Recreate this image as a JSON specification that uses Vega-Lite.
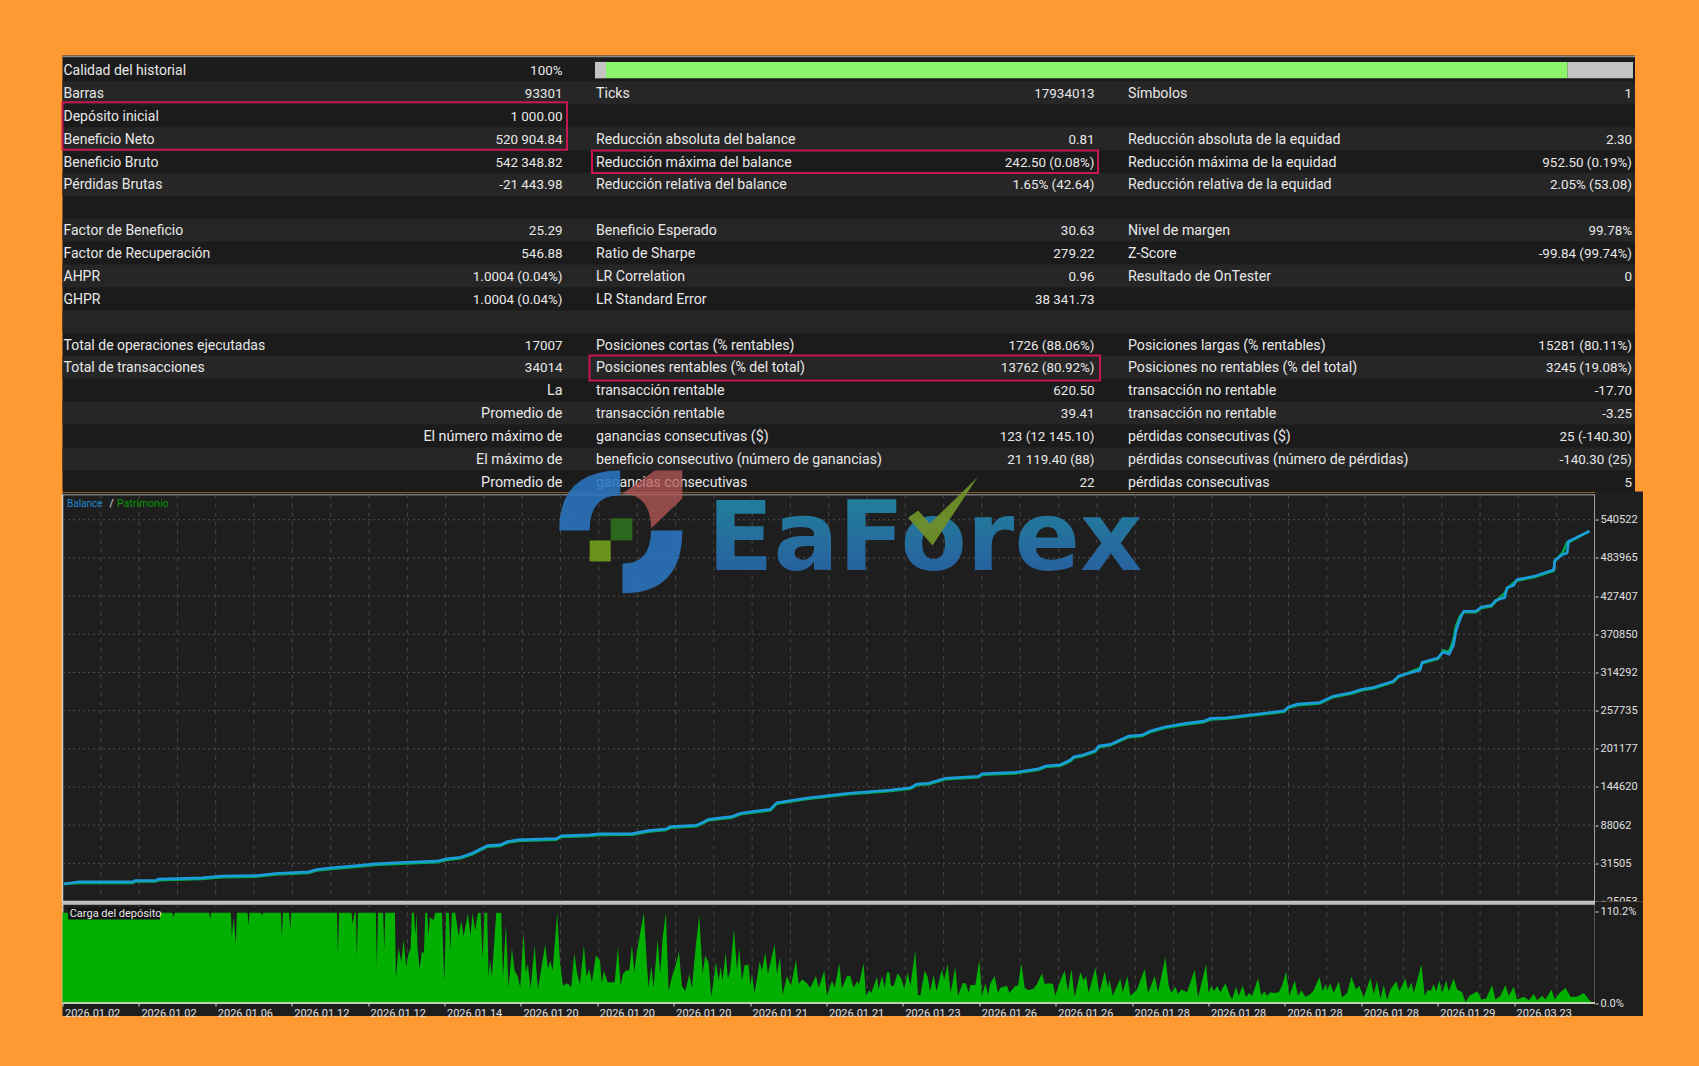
{
"$schema":"https://vega.github.io/schema/vega-lite/v6.json",
"background":"#FF9A33",
"padding":{"left":57.5,"top":55.5,"right":55,"bottom":50.5},
"bounds":"flush",
"spacing":2,
"config":{"text":{"font":"Roboto"},"axis":{"labelFont":"Roboto"}},
"datasets":{
"table":[
{"row":0,"slot":"a","text":"Calidad del historial"},{"row":0,"slot":"A","text":"100%"},
{"row":1,"slot":"a","text":"Barras"},{"row":1,"slot":"A","text":"93301"},{"row":1,"slot":"b","text":"Ticks"},{"row":1,"slot":"B","text":"17934013"},{"row":1,"slot":"c","text":"Símbolos"},{"row":1,"slot":"C","text":"1"},
{"row":2,"slot":"a","text":"Depósito inicial"},{"row":2,"slot":"A","text":"1 000.00"},
{"row":3,"slot":"a","text":"Beneficio Neto"},{"row":3,"slot":"A","text":"520 904.84"},{"row":3,"slot":"b","text":"Reducción absoluta del balance"},{"row":3,"slot":"B","text":"0.81"},{"row":3,"slot":"c","text":"Reducción absoluta de la equidad"},{"row":3,"slot":"C","text":"2.30"},
{"row":4,"slot":"a","text":"Beneficio Bruto"},{"row":4,"slot":"A","text":"542 348.82"},{"row":4,"slot":"b","text":"Reducción máxima del balance"},{"row":4,"slot":"B","text":"242.50 (0.08%)"},{"row":4,"slot":"c","text":"Reducción máxima de la equidad"},{"row":4,"slot":"C","text":"952.50 (0.19%)"},
{"row":5,"slot":"a","text":"Pérdidas Brutas"},{"row":5,"slot":"A","text":"-21 443.98"},{"row":5,"slot":"b","text":"Reducción relativa del balance"},{"row":5,"slot":"B","text":"1.65% (42.64)"},{"row":5,"slot":"c","text":"Reducción relativa de la equidad"},{"row":5,"slot":"C","text":"2.05% (53.08)"},
{"row":7,"slot":"a","text":"Factor de Beneficio"},{"row":7,"slot":"A","text":"25.29"},{"row":7,"slot":"b","text":"Beneficio Esperado"},{"row":7,"slot":"B","text":"30.63"},{"row":7,"slot":"c","text":"Nivel de margen"},{"row":7,"slot":"C","text":"99.78%"},
{"row":8,"slot":"a","text":"Factor de Recuperación"},{"row":8,"slot":"A","text":"546.88"},{"row":8,"slot":"b","text":"Ratio de Sharpe"},{"row":8,"slot":"B","text":"279.22"},{"row":8,"slot":"c","text":"Z-Score"},{"row":8,"slot":"C","text":"-99.84 (99.74%)"},
{"row":9,"slot":"a","text":"AHPR"},{"row":9,"slot":"A","text":"1.0004 (0.04%)"},{"row":9,"slot":"b","text":"LR Correlation"},{"row":9,"slot":"B","text":"0.96"},{"row":9,"slot":"c","text":"Resultado de OnTester"},{"row":9,"slot":"C","text":"0"},
{"row":10,"slot":"a","text":"GHPR"},{"row":10,"slot":"A","text":"1.0004 (0.04%)"},{"row":10,"slot":"b","text":"LR Standard Error"},{"row":10,"slot":"B","text":"38 341.73"},
{"row":12,"slot":"a","text":"Total de operaciones ejecutadas"},{"row":12,"slot":"A","text":"17007"},{"row":12,"slot":"b","text":"Posiciones cortas (% rentables)"},{"row":12,"slot":"B","text":"1726 (88.06%)"},{"row":12,"slot":"c","text":"Posiciones largas (% rentables)"},{"row":12,"slot":"C","text":"15281 (80.11%)"},
{"row":13,"slot":"a","text":"Total de transacciones"},{"row":13,"slot":"A","text":"34014"},{"row":13,"slot":"b","text":"Posiciones rentables (% del total)"},{"row":13,"slot":"B","text":"13762 (80.92%)"},{"row":13,"slot":"c","text":"Posiciones no rentables (% del total)"},{"row":13,"slot":"C","text":"3245 (19.08%)"},
{"row":14,"slot":"A","text":"La"},{"row":14,"slot":"b","text":"transacción rentable"},{"row":14,"slot":"B","text":"620.50"},{"row":14,"slot":"c","text":"transacción no rentable"},{"row":14,"slot":"C","text":"-17.70"},
{"row":15,"slot":"A","text":"Promedio de"},{"row":15,"slot":"b","text":"transacción rentable"},{"row":15,"slot":"B","text":"39.41"},{"row":15,"slot":"c","text":"transacción no rentable"},{"row":15,"slot":"C","text":"-3.25"},
{"row":16,"slot":"A","text":"El número máximo de"},{"row":16,"slot":"b","text":"ganancias consecutivas ($)"},{"row":16,"slot":"B","text":"123 (12 145.10)"},{"row":16,"slot":"c","text":"pérdidas consecutivas ($)"},{"row":16,"slot":"C","text":"25 (-140.30)"},
{"row":17,"slot":"A","text":"El máximo de"},{"row":17,"slot":"b","text":"beneficio consecutivo (número de ganancias)"},{"row":17,"slot":"B","text":"21 119.40 (88)"},{"row":17,"slot":"c","text":"pérdidas consecutivas (número de pérdidas)"},{"row":17,"slot":"C","text":"-140.30 (25)"},
{"row":18,"slot":"A","text":"Promedio de"},{"row":18,"slot":"b","text":"ganancias consecutivas"},{"row":18,"slot":"B","text":"22"},{"row":18,"slot":"c","text":"pérdidas consecutivas"},{"row":18,"slot":"C","text":"5"}
],
"stripes":[{"from":0.5,"to":1.5},{"from":2.5,"to":3.5},{"from":4.5,"to":5.5},{"from":6.5,"to":7.5},{"from":8.5,"to":9.5},{"from":10.5,"to":11.5},{"from":12.5,"to":13.5},{"from":14.5,"to":15.5},{"from":16.5,"to":17.5}],
"gridX":[{"t":850},{"t":1700},{"t":2550},{"t":3400},{"t":4250},{"t":5100},{"t":5950},{"t":6800},{"t":7650},{"t":8500},{"t":9350},{"t":10200},{"t":11050},{"t":11900},{"t":12750},{"t":13600},{"t":14450},{"t":15300},{"t":16150},{"t":17000},{"t":17850},{"t":18700},{"t":19550},{"t":20400},{"t":21250},{"t":22100},{"t":22950},{"t":23800},{"t":24650},{"t":25500},{"t":26350},{"t":27200},{"t":28050},{"t":28900},{"t":29750},{"t":30600},{"t":31450},{"t":32300},{"t":33150}],
"gridY":[{"v":31505},{"v":88062},{"v":144620},{"v":201177},{"v":257735},{"v":314292},{"v":370850},{"v":427407},{"v":483965},{"v":540522}],
"curve":[
{"t":29,"balance":1000,"equity":1000},{"t":368,"balance":4089,"equity":2600},{"t":1558,"balance":4089,"equity":2600},{"t":1613,"balance":6012,"equity":4500},{"t":2064,"balance":6012,"equity":4500},{"t":2124,"balance":8082,"equity":6600},{"t":3084,"balance":10005,"equity":8500},{"t":3539,"balance":12519,"equity":11000},{"t":4327,"balance":13407,"equity":11900},{"t":4726,"balance":16365,"equity":14900},{"t":5459,"balance":18879,"equity":17400},{"t":5636,"balance":22281,"equity":20800},{"t":6036,"balance":25239,"equity":23700},{"t":6479,"balance":27753,"equity":26300},{"t":6934,"balance":30711,"equity":29200},{"t":7500,"balance":32634,"equity":31100},{"t":8299,"balance":34704,"equity":33200},{"t":8521,"balance":38106,"equity":36600},{"t":8832,"balance":40620,"equity":39100},{"t":9087,"balance":46536,"equity":45000},{"t":9431,"balance":57777,"equity":56300},{"t":9708,"balance":58812,"equity":57300},{"t":9875,"balance":63693,"equity":62200},{"t":10105,"balance":66207,"equity":64700},{"t":10953,"balance":68130,"equity":66600},{"t":11068,"balance":72123,"equity":70600},{"t":11690,"balance":73602,"equity":72100},{"t":11916,"balance":75081,"equity":73600},{"t":12648,"balance":75525,"equity":74000},{"t":12992,"balance":79962,"equity":78500},{"t":13387,"balance":82476,"equity":81000},{"t":13500,"balance":85878,"equity":84400},{"t":14068,"balance":87948,"equity":86400},{"t":14237,"balance":93273,"equity":91800},{"t":14335,"balance":96822,"equity":95300},{"t":14845,"balance":100668,"equity":99200},{"t":15038,"balance":105696,"equity":104200},{"t":15704,"balance":111612,"equity":110100},{"t":15850,"balance":121374,"equity":119900},{"t":16480,"balance":127881,"equity":126400},{"t":17441,"balance":135276,"equity":133800},{"t":17885,"balance":137643,"equity":136100},{"t":18367,"balance":140157,"equity":138700},{"t":18811,"balance":143559,"equity":142000},{"t":18957,"balance":149031,"equity":147500},{"t":19217,"balance":150066,"equity":148600},{"t":19587,"balance":157461,"equity":156000},{"t":20326,"balance":160419,"equity":158900},{"t":20400,"balance":164265,"equity":162800},{"t":21141,"balance":166335,"equity":164800},{"t":21658,"balance":171660,"equity":170200},{"t":21807,"balance":175653,"equity":174100},{"t":22140,"balance":177576,"equity":176100},{"t":22360,"balance":184527,"equity":183000},{"t":22434,"balance":189408,"equity":187900},{"t":22618,"balance":191478,"equity":190000},{"t":22916,"balance":198282,"equity":196800},{"t":22989,"balance":205233,"equity":203700},{"t":23248,"balance":207747,"equity":206300},{"t":23654,"balance":220023,"equity":218500},{"t":23950,"balance":221502,"equity":220000},{"t":24134,"balance":227418,"equity":225900},{"t":24476,"balance":233778,"equity":232300},{"t":24920,"balance":238806,"equity":237300},{"t":25319,"balance":242208,"equity":240700},{"t":25470,"balance":246201,"equity":244700},{"t":25816,"balance":247088,"equity":245600},{"t":26606,"balance":253596,"equity":252100},{"t":27101,"balance":257442,"equity":255900},{"t":27201,"balance":263358,"equity":261900},{"t":27398,"balance":267351,"equity":265800},{"t":27893,"balance":269865,"equity":268400},{"t":28190,"balance":279183,"equity":277700},{"t":28585,"balance":284064,"equity":282600},{"t":28834,"balance":289536,"equity":288000},{"t":29080,"balance":292050,"equity":290500},{"t":29526,"balance":301368,"equity":299900},{"t":29646,"balance":309207,"equity":307700},{"t":30118,"balance":317637,"equity":321000},{"t":30167,"balance":329469,"equity":328000},{"t":30516,"balance":335829,"equity":334300},{"t":30633,"balance":344703,"equity":347000},{"t":30762,"balance":341301,"equity":345000},{"t":30862,"balance":354612,"equity":363000},{"t":30911,"balance":374283,"equity":382000},{"t":31008,"balance":394101,"equity":398000},{"t":31088,"balance":404898,"equity":403400},{"t":31354,"balance":404898,"equity":403400},{"t":31483,"balance":411258,"equity":409800},{"t":31700,"balance":413772,"equity":412300},{"t":31798,"balance":421167,"equity":419700},{"t":31998,"balance":425160,"equity":432000},{"t":32049,"balance":439950,"equity":438400},{"t":32197,"balance":443352,"equity":447000},{"t":32264,"balance":451782,"equity":450300},{"t":32641,"balance":456663,"equity":455200},{"t":33085,"balance":466572,"equity":465100},{"t":33107,"balance":480327,"equity":478800},{"t":33285,"balance":489201,"equity":492000},{"t":33382,"balance":491124,"equity":507000},{"t":33413,"balance":508428,"equity":506900},{"t":33877,"balance":523600,"equity":523600}
],
"load":[
{"t":0,"v":100},{"t":2440,"v":100},{"t":2463,"v":95},{"t":2490,"v":100},{"t":3255,"v":100},{"t":3277,"v":93},{"t":3300,"v":100},{"t":3735,"v":100},{"t":3757,"v":74},{"t":3800,"v":95},{"t":3846,"v":65},{"t":3870,"v":100},{"t":4105,"v":100},{"t":4127,"v":86},{"t":4150,"v":100},{"t":4400,"v":100},{"t":4423,"v":97},{"t":4445,"v":100},{"t":4845,"v":100},{"t":4867,"v":73},{"t":4890,"v":100},{"t":5030,"v":100},{"t":5052,"v":81},{"t":5075,"v":100},{"t":6088,"v":100},{"t":6110,"v":55},{"t":6135,"v":100},{"t":6412,"v":100},{"t":6435,"v":87},{"t":6480,"v":100},{"t":6510,"v":100},{"t":6531,"v":51},{"t":6555,"v":100},{"t":6952,"v":100},{"t":6975,"v":40},{"t":7000,"v":100},{"t":7115,"v":100},{"t":7138,"v":59},{"t":7160,"v":100},{"t":7375,"v":100},{"t":7397,"v":27},{"t":7456,"v":62},{"t":7515,"v":45},{"t":7567,"v":70},{"t":7626,"v":40},{"t":7678,"v":55},{"t":7722,"v":60},{"t":7752,"v":100},{"t":7796,"v":100},{"t":7826,"v":76},{"t":7855,"v":100},{"t":7878,"v":60},{"t":7922,"v":38},{"t":7974,"v":57},{"t":8018,"v":55},{"t":8048,"v":100},{"t":8092,"v":100},{"t":8122,"v":74},{"t":8151,"v":95},{"t":8232,"v":92},{"t":8269,"v":100},{"t":8417,"v":100},{"t":8469,"v":24},{"t":8513,"v":100},{"t":8572,"v":100},{"t":8602,"v":57},{"t":8639,"v":100},{"t":8713,"v":100},{"t":8750,"v":88},
{"t":8787,"v":74},{"t":8846,"v":91},{"t":8898,"v":74},{"t":8994,"v":99},{"t":9053,"v":75},{"t":9098,"v":100},{"t":9157,"v":80},{"t":9216,"v":100},{"t":9275,"v":100},{"t":9320,"v":49},{"t":9364,"v":100},{"t":9423,"v":100},{"t":9453,"v":29},{"t":9490,"v":47},{"t":9527,"v":30},{"t":9623,"v":100},{"t":9734,"v":100},{"t":9771,"v":28},{"t":9837,"v":87},{"t":9897,"v":17},{"t":9971,"v":61},{"t":10030,"v":36},{"t":10104,"v":29},{"t":10155,"v":17},{"t":10229,"v":78},{"t":10281,"v":34},{"t":10325,"v":43},{"t":10385,"v":16},{"t":10474,"v":64},{"t":10548,"v":15},{"t":10621,"v":38},{"t":10710,"v":65},{"t":10769,"v":38},{"t":10821,"v":47},{"t":10873,"v":36},{"t":10976,"v":100},{"t":11036,"v":46},{"t":11102,"v":19},{"t":11191,"v":22},{"t":11287,"v":18},{"t":11354,"v":55},{"t":11420,"v":32},{"t":11479,"v":21},{"t":11568,"v":64},{"t":11627,"v":29},{"t":11687,"v":38},{"t":11746,"v":23},{"t":11835,"v":53},{"t":11923,"v":47},{"t":11968,"v":22},{"t":12012,"v":36},{"t":12094,"v":23},{"t":12249,"v":23},{"t":12323,"v":62},{"t":12382,"v":19},{"t":12434,"v":32},{"t":12500,"v":36},{"t":12574,"v":36},{"t":12634,"v":65},{"t":12685,"v":34},{"t":12745,"v":57},{"t":12818,"v":78},{"t":12899,"v":100},{"t":12966,"v":42},{"t":13003,"v":17},{"t":13063,"v":41},{"t":13114,"v":17},{"t":13203,"v":71},{"t":13262,"v":32},{"t":13314,"v":72},{"t":13388,"v":100},{"t":13447,"v":13},{"t":13521,"v":29},{"t":13595,"v":40},{"t":13677,"v":57},{"t":13743,"v":19},{"t":13817,"v":13},{"t":13906,"v":32},{"t":13965,"v":17},{"t":14054,"v":65},{"t":14128,"v":97},{"t":14202,"v":32},{"t":14261,"v":53},{"t":14335,"v":44},{"t":14394,"v":7},{"t":14498,"v":45},{"t":14557,"v":25},{"t":14601,"v":40},{"t":14645,"v":25},{"t":14712,"v":56},{"t":14764,"v":27},{"t":14816,"v":36},{"t":14897,"v":82},{"t":14964,"v":36},{"t":15015,"v":61},{"t":15075,"v":25},{"t":15134,"v":42},{"t":15222,"v":42},{"t":15259,"v":19},{"t":15296,"v":32},{"t":15355,"v":11},{"t":15467,"v":46},{"t":15518,"v":36},{"t":15592,"v":56},{"t":15651,"v":32},{"t":15799,"v":65},{"t":15851,"v":32},{"t":15918,"v":51},{"t":15977,"v":9},{"t":16073,"v":30},{"t":16162,"v":19},{"t":16273,"v":48},{"t":16332,"v":21},{"t":16406,"v":26},{"t":16495,"v":23},{"t":16591,"v":17},{"t":16717,"v":30},{"t":16776,"v":17},{"t":16901,"v":36},{"t":16961,"v":8},{"t":17071,"v":25},{"t":17131,"v":17},{"t":17234,"v":44},{"t":17293,"v":16},{"t":17404,"v":30},{"t":17478,"v":30},{"t":17552,"v":17},{"t":17641,"v":25},
{"t":17663,"v":19},{"t":17774,"v":44},{"t":17826,"v":8},{"t":17900,"v":14},{"t":17944,"v":11},{"t":18070,"v":29},{"t":18107,"v":15},{"t":18181,"v":30},{"t":18240,"v":17},{"t":18292,"v":34},{"t":18344,"v":34},{"t":18381,"v":19},{"t":18440,"v":19},{"t":18528,"v":33},{"t":18610,"v":27},{"t":18676,"v":16},{"t":18750,"v":34},{"t":18810,"v":19},{"t":18920,"v":58},{"t":18980,"v":9},{"t":19031,"v":8},{"t":19128,"v":36},{"t":19194,"v":29},{"t":19246,"v":13},{"t":19327,"v":31},{"t":19394,"v":13},{"t":19512,"v":38},{"t":19557,"v":25},{"t":19638,"v":43},{"t":19705,"v":11},{"t":19808,"v":40},{"t":19867,"v":8},{"t":19971,"v":22},{"t":20045,"v":22},{"t":20104,"v":11},{"t":20141,"v":20},{"t":20252,"v":20},{"t":20341,"v":48},{"t":20400,"v":8},{"t":20474,"v":22},{"t":20533,"v":9},{"t":20585,"v":22},{"t":20681,"v":30},{"t":20755,"v":11},{"t":20807,"v":17},{"t":20955,"v":19},{"t":21006,"v":11},{"t":21140,"v":19},{"t":21199,"v":19},{"t":21273,"v":44},{"t":21347,"v":17},{"t":21436,"v":14},{"t":21546,"v":16},{"t":21620,"v":21},{"t":21731,"v":33},{"t":21791,"v":21},{"t":21879,"v":22},{"t":21975,"v":21},{"t":22027,"v":8},{"t":22138,"v":25},{"t":22234,"v":36},{"t":22308,"v":13},{"t":22382,"v":38},{"t":22456,"v":7},{"t":22582,"v":34},{"t":22656,"v":25},{"t":22708,"v":30},{"t":22767,"v":11},{"t":22915,"v":39},{"t":23004,"v":11},{"t":23122,"v":35},{"t":23196,"v":17},{"t":23226,"v":26},{"t":23300,"v":8},{"t":23470,"v":27},{"t":23522,"v":12},{"t":23625,"v":30},{"t":23692,"v":8},{"t":23840,"v":15},{"t":24010,"v":38},{"t":24084,"v":11},{"t":24232,"v":30},{"t":24306,"v":12},{"t":24468,"v":51},{"t":24542,"v":19},{"t":24602,"v":11},{"t":24690,"v":18},{"t":24749,"v":10},{"t":24823,"v":15},{"t":24949,"v":12},{"t":25119,"v":37},{"t":25193,"v":6},
{"t":25371,"v":43},{"t":25430,"v":11},{"t":25489,"v":19},{"t":25548,"v":13},{"t":25615,"v":19},{"t":25689,"v":12},{"t":25800,"v":22},{"t":25889,"v":10},{"t":25948,"v":4},{"t":26036,"v":18},{"t":26096,"v":8},{"t":26184,"v":19},{"t":26258,"v":6},{"t":26318,"v":11},{"t":26392,"v":8},{"t":26525,"v":27},{"t":26599,"v":8},{"t":26665,"v":13},{"t":26724,"v":8},{"t":26798,"v":12},{"t":26872,"v":11},{"t":26983,"v":12},{"t":27057,"v":19},{"t":27146,"v":35},{"t":27220,"v":8},{"t":27338,"v":25},{"t":27412,"v":8},{"t":27486,"v":14},{"t":27575,"v":7},{"t":27686,"v":10},{"t":27760,"v":14},{"t":27886,"v":29},{"t":27960,"v":13},{"t":28019,"v":21},{"t":28063,"v":14},{"t":28122,"v":22},{"t":28204,"v":11},{"t":28315,"v":24},{"t":28389,"v":6},{"t":28500,"v":11},{"t":28596,"v":29},{"t":28699,"v":15},{"t":28773,"v":19},{"t":28870,"v":6},{"t":29017,"v":28},{"t":29092,"v":10},{"t":29165,"v":25},{"t":29239,"v":5},{"t":29313,"v":20},{"t":29387,"v":4},{"t":29461,"v":15},{"t":29587,"v":24},{"t":29661,"v":13},{"t":29794,"v":27},{"t":29853,"v":15},{"t":29927,"v":23},{"t":29979,"v":11},{"t":30149,"v":43},{"t":30223,"v":8},{"t":30297,"v":15},{"t":30349,"v":13},{"t":30423,"v":21},{"t":30475,"v":13},{"t":30549,"v":25},{"t":30608,"v":11},{"t":30697,"v":25},{"t":30756,"v":13},{"t":30867,"v":27},{"t":30941,"v":15},{"t":31052,"v":12},{"t":31126,"v":1},{"t":31215,"v":8},{"t":31392,"v":13},{"t":31481,"v":4},{"t":31584,"v":5},{"t":31717,"v":20},{"t":31791,"v":4},{"t":31902,"v":8},{"t":32013,"v":20},{"t":32087,"v":8},{"t":32198,"v":18},{"t":32272,"v":4},{"t":32420,"v":7},{"t":32531,"v":3},{"t":32642,"v":10},{"t":32716,"v":3},{"t":32827,"v":8},{"t":32901,"v":4},{"t":33034,"v":15},{"t":33108,"v":4},{"t":33197,"v":10},{"t":33345,"v":17},{"t":33456,"v":7},{"t":33604,"v":7},{"t":33752,"v":11},{"t":33863,"v":4},{"t":33922,"v":1}
]
},
"vconcat":[
{
"width":1572.5,"height":436.5,
"view":{"fill":"#1b1b1b","stroke":null},
"resolve":{"scale":{"x":"independent"}},
"layer":[
{"data":{"name":"stripes"},"mark":{"type":"rect","fill":"#262626"},"encoding":{"y":{"field":"from","type":"quantitative","scale":{"domain":[-0.64,18.45],"reverse":true,"nice":false,"zero":false},"axis":null},"y2":{"field":"to"}}},
{"data":{"values":[{"rule":"top"}]},"mark":{"type":"rule","stroke":"#8a8a8a","strokeWidth":1.5},"encoding":{"y":{"datum":-0.6,"scale":{"domain":[-0.64,18.45],"reverse":true,"nice":false,"zero":false},"axis":null}}},
{"data":{"values":[{"seg":"a","from":0,"to":1.06},{"seg":"b","from":1.06,"to":93.7},{"seg":"a","from":93.7,"to":100}]},"mark":{"type":"rect"},"encoding":{"x":{"field":"from","type":"quantitative","scale":{"domain":[0,100],"range":[532.5,1570.5],"nice":false,"zero":false},"axis":null},"x2":{"field":"to"},"y":{"datum":-0.36,"scale":{"domain":[-0.64,18.45],"reverse":true,"nice":false,"zero":false},"axis":null},"y2":{"datum":0.36},"color":{"field":"seg","type":"nominal","scale":{"domain":["a","b"],"range":["#c4c4c4","#8cf56c"]},"legend":null}}},
{"data":{"name":"table"},"transform":[{"filter":"datum.slot=='a'"}],"mark":{"type":"text","align":"left","baseline":"middle","dy":1,"fontSize":14,"fill":"#e8e8e8"},"encoding":{"x":{"field":"slot","type":"nominal","scale":{"type":"point","domain":["a","A"],"range":[1,500],"padding":0},"axis":null},"y":{"field":"row","type":"quantitative","scale":{"domain":[-0.64,18.45],"reverse":true,"nice":false,"zero":false},"axis":null},"text":{"field":"text"}}},
{"data":{"name":"table"},"transform":[{"filter":"datum.slot=='A'"}],"mark":{"type":"text","align":"right","baseline":"middle","dy":1,"fill":"#e8e8e8"},"encoding":{"x":{"field":"slot","type":"nominal","scale":{"type":"point","domain":["a","A"],"range":[1,500],"padding":0},"axis":null},"y":{"field":"row","type":"quantitative","scale":{"domain":[-0.64,18.45],"reverse":true,"nice":false,"zero":false},"axis":null},"text":{"field":"text"},"size":{"condition":{"test":"datum.row>=14","value":14.4},"value":13.4}}},
{"data":{"name":"table"},"transform":[{"filter":"datum.slot=='b'"}],"mark":{"type":"text","align":"left","baseline":"middle","dy":1,"fontSize":14.15,"fill":"#e8e8e8"},"encoding":{"x":{"field":"slot","type":"nominal","scale":{"type":"point","domain":["b","B"],"range":[533.5,1032],"padding":0},"axis":null},"y":{"field":"row","type":"quantitative","scale":{"domain":[-0.64,18.45],"reverse":true,"nice":false,"zero":false},"axis":null},"text":{"field":"text"}}},
{"data":{"name":"table"},"transform":[{"filter":"datum.slot=='B'"}],"mark":{"type":"text","align":"right","baseline":"middle","dy":1,"fontSize":13.4,"fill":"#e8e8e8"},"encoding":{"x":{"field":"slot","type":"nominal","scale":{"type":"point","domain":["b","B"],"range":[533.5,1032],"padding":0},"axis":null},"y":{"field":"row","type":"quantitative","scale":{"domain":[-0.64,18.45],"reverse":true,"nice":false,"zero":false},"axis":null},"text":{"field":"text"}}},
{"data":{"name":"table"},"transform":[{"filter":"datum.slot=='c'"}],"mark":{"type":"text","align":"left","baseline":"middle","dy":1,"fontSize":14.2,"fill":"#e8e8e8"},"encoding":{"x":{"field":"slot","type":"nominal","scale":{"type":"point","domain":["c","C"],"range":[1065.5,1569.5],"padding":0},"axis":null},"y":{"field":"row","type":"quantitative","scale":{"domain":[-0.64,18.45],"reverse":true,"nice":false,"zero":false},"axis":null},"text":{"field":"text"}}},
{"data":{"name":"table"},"transform":[{"filter":"datum.slot=='C'"}],"mark":{"type":"text","align":"right","baseline":"middle","dy":1,"fontSize":13.4,"fill":"#e8e8e8"},"encoding":{"x":{"field":"slot","type":"nominal","scale":{"type":"point","domain":["c","C"],"range":[1065.5,1569.5],"padding":0},"axis":null},"y":{"field":"row","type":"quantitative","scale":{"domain":[-0.64,18.45],"reverse":true,"nice":false,"zero":false},"axis":null},"text":{"field":"text"}}},
{"data":{"values":[{"from":1.4,"to":3.48}]},"mark":{"type":"rect","fillOpacity":0,"stroke":"#c8174f","strokeWidth":2},"encoding":{"x":{"datum":0,"scale":{"domain":[0,1],"range":[0,504.5],"nice":false,"zero":false},"axis":null},"x2":{"datum":1},"y":{"field":"from","type":"quantitative","scale":{"domain":[-0.64,18.45],"reverse":true,"nice":false,"zero":false},"axis":null},"y2":{"field":"to"}}},
{"data":{"values":[{"from":3.52,"to":4.5}]},"mark":{"type":"rect","fillOpacity":0,"stroke":"#c8174f","strokeWidth":2},"encoding":{"x":{"datum":0,"scale":{"domain":[0,1],"range":[529.5,1035.5],"nice":false,"zero":false},"axis":null},"x2":{"datum":1},"y":{"field":"from","type":"quantitative","scale":{"domain":[-0.64,18.45],"reverse":true,"nice":false,"zero":false},"axis":null},"y2":{"field":"to"}}},
{"data":{"values":[{"from":12.48,"to":13.57}]},"mark":{"type":"rect","fillOpacity":0,"stroke":"#c8174f","strokeWidth":2},"encoding":{"x":{"datum":0,"scale":{"domain":[0,1],"range":[527,1037.5],"nice":false,"zero":false},"axis":null},"x2":{"datum":1},"y":{"field":"from","type":"quantitative","scale":{"domain":[-0.64,18.45],"reverse":true,"nice":false,"zero":false},"axis":null},"y2":{"field":"to"}}}
]
},
{
"width":1532.5,"height":407,
"view":{"fill":"#1e1e1e","stroke":"#d0d0d0","strokeWidth":1.5},
"resolve":{"axis":{"x":"independent","y":"independent"}},
"layer":[
{"data":{"name":"gridY"},"mark":{"type":"rule","stroke":"#505050","strokeDash":[2,3],"strokeWidth":1},"encoding":{"y":{"field":"v","type":"quantitative","scale":{"domain":[-25053,577940],"nice":false,"zero":false},"axis":null}}},
{"data":{"name":"gridX"},"mark":{"type":"rule","stroke":"#484848","strokeDash":[4,5],"strokeWidth":1},"encoding":{"x":{"field":"t","type":"quantitative","scale":{"domain":[0,34000],"nice":false,"zero":false},"axis":null}}},
{"data":{"values":[{"part":"gap"}]},"mark":{"type":"rect","fill":"#1e1e1e"},"encoding":{"x":{"datum":0,"scale":{"domain":[0,34000],"nice":false,"zero":false},"axis":null},"x2":{"datum":34000},"y":{"datum":577940,"scale":{"domain":[-25053,577940],"nice":false,"zero":false},"axis":null},"y2":{"datum":580900}}},
{"data":{"values":[{"part":"strip"}]},"mark":{"type":"rect","fill":"#1e1e1e"},"encoding":{"x":{"datum":34000,"scale":{"domain":[0,34000],"nice":false,"zero":false},"axis":null},"x2":{"datum":35064},"y":{"datum":-25053,"scale":{"domain":[-25053,577940],"nice":false,"zero":false},"axis":null},"y2":{"datum":582377}}},
{"data":{"name":"curve"},"mark":{"type":"line","stroke":"#00a84f","strokeWidth":2.6,"interpolate":"linear"},"encoding":{"x":{"field":"t","type":"quantitative","scale":{"domain":[0,34000],"nice":false,"zero":false},"axis":null},"y":{"field":"equity","type":"quantitative","scale":{"domain":[-25053,577940],"nice":false,"zero":false},"axis":null}}},
{"data":{"name":"curve"},"mark":{"type":"line","stroke":"#1c9cdc","strokeWidth":2.6,"interpolate":"linear"},"encoding":{"x":{"field":"t","type":"quantitative","scale":{"domain":[0,34000],"nice":false,"zero":false},"axis":null},"y":{"field":"balance","type":"quantitative","scale":{"domain":[-25053,577940],"nice":false,"zero":false},"axis":{"orient":"right","values":[-25053,31505,88062,144620,201177,257735,314292,370850,427407,483965,540522],"format":"d","title":null,"grid":false,"domain":false,"tickSize":3,"tickColor":"#dddddd","labelColor":"#e0e0e0","labelFontSize":11,"labelPadding":2,"labelFont":"Roboto","zindex":1}}}},
{"data":{"values":[{"label":"Balance"}]},"mark":{"type":"text","align":"left","baseline":"middle","fontSize":10,"fill":"#1e88d0","text":"Balance"},"encoding":{"x":{"datum":100,"scale":{"domain":[0,34000],"nice":false,"zero":false},"axis":null},"y":{"datum":563150,"scale":{"domain":[-25053,577940],"nice":false,"zero":false},"axis":null}}},
{"data":{"values":[{"label":"/"}]},"mark":{"type":"text","align":"left","baseline":"middle","fontSize":10,"fill":"#e0e0e0","text":"/"},"encoding":{"x":{"datum":1040,"scale":{"domain":[0,34000],"nice":false,"zero":false},"axis":null},"y":{"datum":563150,"scale":{"domain":[-25053,577940],"nice":false,"zero":false},"axis":null}}},
{"data":{"values":[{"label":"Patrimonio"}]},"mark":{"type":"text","align":"left","baseline":"middle","fontSize":10.6,"fill":"#009a00","text":"Patrimonio"},"encoding":{"x":{"datum":1208,"scale":{"domain":[0,34000],"nice":false,"zero":false},"axis":null},"y":{"datum":563150,"scale":{"domain":[-25053,577940],"nice":false,"zero":false},"axis":null}}},
{"data":{"values":[{"logo":"EaForex"}]},"mark":{"type":"text","align":"left","baseline":"alphabetic","font":"DejaVu Sans","fontWeight":"bold","fontSize":96.5,"opacity":0.9,"text":"EaForex","fill":{"gradient":"linear","x1":0,"y1":0,"x2":0,"y2":1,"stops":[{"offset":0,"color":"#1f92a6"},{"offset":1,"color":"#2c5fb0"}]}},"encoding":{"x":{"datum":14310,"scale":{"domain":[0,34000],"nice":false,"zero":false},"axis":null},"y":{"datum":465500,"scale":{"domain":[-25053,577940],"nice":false,"zero":false},"axis":null}}},
{"data":{"values":[{"logo":"arc"}]},"mark":{"type":"point","filled":true,"size":15376,"opacity":0.88,"color":"#2a75c0","shape":"M-0.006,-0.99 Q-0.99,-0.99 -0.99,-0.024 L-0.5,-0.024 Q-0.5,-0.59 -0.006,-0.59 Z M0.995,-0.024 Q0.995,0.99 0.03,0.99 L0.03,0.51 Q0.49,0.51 0.49,-0.024 Z"},"encoding":{"x":{"datum":12383,"scale":{"domain":[0,34000],"nice":false,"zero":false},"axis":null},"y":{"datum":522478,"scale":{"domain":[-25053,577940],"nice":false,"zero":false},"axis":null}}},
{"data":{"values":[{"logo":"wing"}]},"mark":{"type":"point","filled":true,"size":15376,"opacity":0.75,"color":"#b85a5a","shape":"M0.03,-0.62 L0.55,-0.99 L0.995,-0.99 L0.995,-0.54 L0.49,-0.055 Q0.49,-0.6 0.03,-0.62 Z"},"encoding":{"x":{"datum":12383,"scale":{"domain":[0,34000],"nice":false,"zero":false},"axis":null},"y":{"datum":522478,"scale":{"domain":[-25053,577940],"nice":false,"zero":false},"axis":null}}},
{"data":{"values":[{"logo":"dark square"}]},"mark":{"type":"point","filled":true,"size":15376,"opacity":0.95,"color":"#2e6b1f","shape":"M-0.16,-0.22 L0.19,-0.22 L0.19,0.137 L-0.16,0.137 Z"},"encoding":{"x":{"datum":12383,"scale":{"domain":[0,34000],"nice":false,"zero":false},"axis":null},"y":{"datum":522478,"scale":{"domain":[-25053,577940],"nice":false,"zero":false},"axis":null}}},
{"data":{"values":[{"logo":"light square"}]},"mark":{"type":"point","filled":true,"size":15376,"opacity":0.95,"color":"#6f9a1c","shape":"M-0.5,0.137 L-0.16,0.137 L-0.16,0.476 L-0.5,0.476 Z"},"encoding":{"x":{"datum":12383,"scale":{"domain":[0,34000],"nice":false,"zero":false},"axis":null},"y":{"datum":522478,"scale":{"domain":[-25053,577940],"nice":false,"zero":false},"axis":null}}},
{"data":{"values":[{"logo":"check"}]},"mark":{"type":"point","filled":true,"size":4816,"opacity":0.95,"color":"#6f8f2a","shape":"M-1,0.192 L-0.706,-0.019 L-0.376,0.365 L1,-0.98 L-0.294,0.99 Z"},"encoding":{"x":{"datum":19530,"scale":{"domain":[0,34000],"nice":false,"zero":false},"axis":null},"y":{"datum":553240,"scale":{"domain":[-25053,577940],"nice":false,"zero":false},"axis":null}}}
]
},
{
"width":1532.5,"height":99.5,
"view":{"fill":"#1e1e1e","stroke":"#d0d0d0","strokeWidth":1.2},
"resolve":{"axis":{"x":"independent","y":"independent"}},
"layer":[
{"data":{"name":"gridX"},"mark":{"type":"rule","stroke":"#484848","strokeDash":[4,5],"strokeWidth":1},"encoding":{"x":{"field":"t","type":"quantitative","scale":{"domain":[0,34000],"nice":false,"zero":false},"axis":null}}},
{"data":{"values":[{"part":"strip"}]},"mark":{"type":"rect","fill":"#1e1e1e"},"encoding":{"x":{"datum":34000,"scale":{"domain":[0,34000],"nice":false,"zero":false},"axis":null},"x2":{"datum":35064},"y":{"datum":-14.5,"scale":{"domain":[0,110.2],"nice":false,"zero":false},"axis":null},"y2":{"datum":112.5}}},
{"data":{"values":[{"part":"bottom strip"}]},"mark":{"type":"rect","fill":"#1e1e1e"},"encoding":{"x":{"datum":0,"scale":{"domain":[0,34000],"nice":false,"zero":false},"axis":null},"x2":{"datum":34000},"y":{"datum":0,"scale":{"domain":[0,110.2],"nice":false,"zero":false},"axis":null},"y2":{"datum":-14.5}}},
{"data":{"name":"load"},"mark":{"type":"area","color":"#02b002","interpolate":"linear"},"encoding":{"x":{"field":"t","type":"quantitative","scale":{"domain":[0,34000],"nice":false,"zero":false},"axis":{"orient":"bottom","values":[0,1695,3390,5085,6780,8475,10170,11865,13560,15255,16950,18645,20340,22035,23730,25425,27120,28815,30510,32205],"labelExpr":"['2026.01.02','2026.01.02','2026.01.06','2026.01.12','2026.01.12','2026.01.14','2026.01.20','2026.01.20','2026.01.20','2026.01.21','2026.01.21','2026.01.23','2026.01.26','2026.01.26','2026.01.28','2026.01.28','2026.01.28','2026.01.28','2026.01.29','2026.03.23'][round(datum.value/1695)]","labelAlign":"left","labelBound":false,"labelFlush":false,"labelOverlap":false,"labelOffset":2,"labelPadding":1,"labelFontSize":11,"labelColor":"#e0e0e0","labelFont":"Roboto","title":null,"grid":false,"domain":false,"tickSize":3,"tickColor":"#dddddd","zindex":1}},"y":{"field":"v","type":"quantitative","scale":{"domain":[0,110.2],"nice":false,"zero":false},"axis":{"orient":"right","values":[0,101.2],"labelExpr":"datum.value==0?'0.0%':'110.2%'","title":null,"grid":false,"domain":false,"tickSize":3,"tickColor":"#dddddd","labelColor":"#e0e0e0","labelFontSize":11,"labelPadding":2,"labelFont":"Roboto","zindex":1}}}},
{"data":{"values":[{"part":"base"}]},"mark":{"type":"rule","stroke":"#b5d4ad","strokeWidth":1.8},"encoding":{"y":{"datum":0,"scale":{"domain":[0,110.2],"nice":false,"zero":false},"axis":null}}},
{"data":{"values":[{"part":"separator"}]},"mark":{"type":"rect","fill":"#bdbdbd"},"encoding":{"x":{"datum":0,"scale":{"domain":[0,34000],"nice":false,"zero":false},"axis":null},"x2":{"datum":34000},"y":{"datum":109.2,"scale":{"domain":[0,110.2],"nice":false,"zero":false},"axis":null},"y2":{"datum":112.5}}},
{"data":{"values":[{"part":"label box"}]},"mark":{"type":"rect","fill":"#141414"},"encoding":{"x":{"datum":122,"scale":{"domain":[0,34000],"nice":false,"zero":false},"axis":null},"x2":{"datum":2163},"y":{"datum":92.5,"scale":{"domain":[0,110.2],"nice":false,"zero":false},"axis":null},"y2":{"datum":105.8}}},
{"data":{"values":[{"label":"Carga del depósito"}]},"mark":{"type":"text","align":"left","baseline":"middle","fontSize":11,"fill":"#e8e8e8","text":"Carga del depósito"},"encoding":{"x":{"datum":160,"scale":{"domain":[0,34000],"nice":false,"zero":false},"axis":null},"y":{"datum":99,"scale":{"domain":[0,110.2],"nice":false,"zero":false},"axis":null}}}
]
}
]
}
